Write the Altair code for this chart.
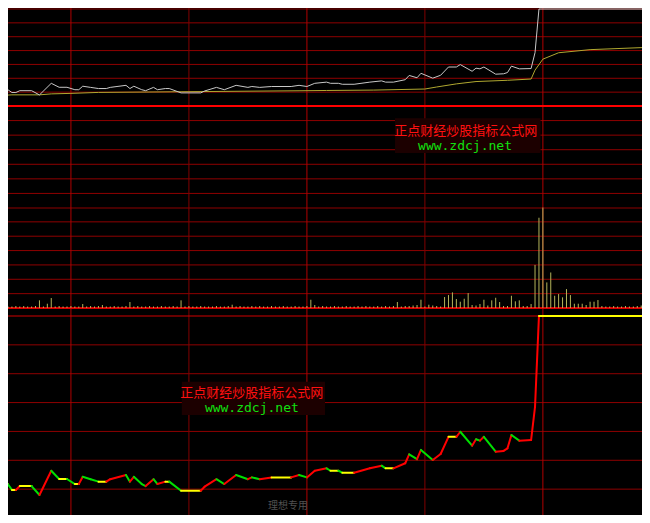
import altair as alt
import pandas as pd

W, H = 634, 507

# ---------------- data ----------------
# minute index = trading minutes since 9:30 (11:30 == 13:00 == 120)
line_min = [42, 44, 45, 46, 47, 50, 52, 55, 57, 59,
            61, 62, 63, 65, 67, 69, 70, 74, 75, 76,
            78, 79, 81, 82, 84, 85, 88, 93, 94, 97,
            99, 102, 105, 106, 108, 111, 116, 118, 120, 122,
            125, 126, 128, 129, 132, 136, 139, 140, 142, 145,
            146, 148, 149, 152, 154, 156, 158, 159, 162, 163,
            164, 165, 168, 170, 171, 172, 174, 177, 178, 179,
            207]
# price change vs previous close, %
line_pct = [1.67, 1.67, 1.39, 1.39, 1.58, 1.58, 1.14, 2.34, 1.93, 1.93,
            1.68, 1.68, 2.04, 1.92, 1.80, 1.80, 1.92, 2.13, 1.80, 2.04,
            1.68, 1.58, 1.92, 1.68, 1.80, 1.80, 1.35, 1.35, 1.55, 1.92,
            1.68, 2.13, 1.92, 2.01, 1.92, 2.01, 2.01, 2.13, 2.01, 2.34,
            2.46, 2.34, 2.34, 2.24, 2.24, 2.46, 2.59, 2.46, 2.46, 2.71,
            3.15, 2.91, 3.37, 2.87, 3.17, 4.02, 4.02, 4.27, 3.58, 3.90,
            3.83, 4.02, 3.28, 3.32, 3.45, 4.11, 3.83, 3.86, 5.50, 10.0,
            10.0]

avg_min = [42, 45, 52, 55, 60, 67, 88, 118, 125, 137,
           150, 153, 158, 163, 171, 177, 178, 180, 184, 192, 207]
avg_pct = [1.08, 1.15, 1.15, 1.25, 1.30, 1.40, 1.47, 1.57, 1.60, 1.64,
           1.75, 1.96, 2.28, 2.52, 2.65, 2.78, 3.70, 4.83, 5.49, 5.81, 6.05]

vol_start = 42
vol = [150, 200, 150, 150, 200, 150, 200, 150, 150, 200,
       770, 150, 430, 1000, 150, 200, 150, 150, 200, 150,
       150, 400, 150, 200, 150, 200, 300, 150, 150, 200,
       150, 150, 200, 600, 150, 200, 150, 150, 200, 150,
       150, 200, 150, 150, 200, 150, 770, 150, 200, 150,
       150, 200, 150, 150, 150, 200, 150, 150, 200, 330,
       150, 200, 150, 150, 200, 150, 200, 150, 150, 200,
       150, 150, 200, 150, 150, 200, 150, 150, 200, 830,
       300, 150, 200, 150, 150, 200, 150, 150, 200, 150,
       150, 200, 150, 200, 150, 150, 200, 150, 200, 150,
       200, 600, 150, 200, 200, 250, 300, 830, 150, 330,
       250, 200, 150, 1100, 1300, 1570, 900, 630, 930, 1500,
       300, 250, 400, 830, 250, 770, 1030, 600, 200, 200,
       1230, 670, 770, 200, 200, 400, 4330, 9070, 10100, 2570,
       3570, 1230, 1400, 1070, 1900, 1300, 430, 430, 430, 300,
       630, 630, 800, 200, 150, 150, 200, 150, 150, 200,
       150, 150, 200, 250, 150, 200]
vol_max = 10100

vgrid_min = [60, 90, 120, 150, 180]
vgrid_kind = ["hour", "half", "hour", "half", "hour"]

price_grid = [k * 10 / 7 for k in range(-7, 8) if k != 0]
vol_grid = [vol_max * j / 7 for j in range(1, 7)]
ind_grid = [j * 10 / 7 for j in range(1, 8)]

wm_text = ["正点财经炒股指标公式网", "www.zdcj.net"]
sig_text = "理想专用"

# ---------------- tables ----------------
price_df = pd.DataFrame({"m": line_min, "pct": line_pct})
avg_df = pd.DataFrame({"m": avg_min, "pct": avg_pct})
vol_df = pd.DataFrame({"m": list(range(vol_start, vol_start + len(vol))), "v": vol})
vol_df["base"] = 0
seg_df = pd.DataFrame({"m": line_min[:-1], "m2": line_min[1:],
                       "pct": line_pct[:-1], "pct2": line_pct[1:]})
seg_df["dir"] = ["up" if b > a else ("down" if b < a else "flat")
                 for a, b in zip(line_pct[:-1], line_pct[1:])]
vg_df = pd.DataFrame({"m": vgrid_min, "kind": vgrid_kind})

# ---------------- scales ----------------
xs = alt.Scale(domain=[44.0, 205.2], nice=False, zero=False)
ps = alt.Scale(domain=[-10, 0, 10], range=[200, 98, 1], nice=False, zero=False)
vs = alt.Scale(domain=[0, vol_max], range=[300, 199.5], nice=False, zero=False)
iscale = alt.Scale(domain=[0, 10], range=[510, 308], nice=False, zero=False)

X = lambda f="m": alt.X(f"{f}:Q", scale=xs, axis=None)

GRID = "#8e0000"
BRIGHT = "#d00000"

def hlines(values, scale, color, width):
    return alt.Chart(pd.DataFrame({"y": values})).mark_rule(
        color=color, strokeWidth=width).encode(y=alt.Y("y:Q", scale=scale, axis=None))

layers = [
    hlines(price_grid, ps, GRID, 1),
    hlines(vol_grid, vs, GRID, 1),
    hlines(ind_grid[:-1], iscale, GRID, 1),
    alt.Chart(vg_df[vg_df.kind == "half"]).mark_rule(color="#800000", strokeWidth=1).encode(x=X()),
    alt.Chart(vg_df[vg_df.kind == "hour"]).mark_rule(color="#b00000", strokeWidth=1).encode(x=X()),
    hlines([0], ps, "#ff0000", 2),
    hlines([0], vs, "#d80000", 2),
    hlines([0], iscale, BRIGHT, 1),
    hlines([10], iscale, BRIGHT, 1),
]

# watermark boxes + text (positioned in data coordinates)
box1 = pd.DataFrame({"m": [142.4], "m2": [179.4], "y": [-1.2], "y2": [-4.6]})
box2 = pd.DataFrame({"m": [88.2], "m2": [124.6], "y": [6.75], "y2": [5.1]})
layers += [
    alt.Chart(box1).mark_rect(color="#1c0000").encode(x=X(), x2="m2:Q",
        y=alt.Y("y:Q", scale=ps, axis=None), y2="y2:Q"),
    alt.Chart(box2).mark_rect(color="#1c0000").encode(x=X(), x2="m2:Q",
        y=alt.Y("y:Q", scale=iscale, axis=None), y2="y2:Q"),
]
t1 = pd.DataFrame({"m": [160.4], "y": [-2.45], "t": [wm_text[0]]})
g1 = pd.DataFrame({"m": [160.2], "y": [-3.9], "t": [wm_text[1]]})
t2 = pd.DataFrame({"m": [106.0], "y": [6.19], "t": [wm_text[0]]})
g2 = pd.DataFrame({"m": [106.0], "y": [5.45], "t": [wm_text[1]]})
sg = pd.DataFrame({"m": [115.2], "y": [0.6], "t": [sig_text]})

def txt(df, scale, color, size, font, weight="normal"):
    return alt.Chart(df).mark_text(color=color, fontSize=size, font=font, fontWeight=weight,
                                   align="center", baseline="middle").encode(
        x=X(), y=alt.Y("y:Q", scale=scale, axis=None), text="t:N")

layers += [
    txt(t1, ps, "#ff1010", 13, "Noto Sans CJK SC"),
    txt(g1, ps, "#10e010", 13, "DejaVu Sans Mono"),
    txt(t2, iscale, "#ff1010", 13, "Noto Sans CJK SC"),
    txt(g2, iscale, "#10e010", 13, "DejaVu Sans Mono"),
    txt(sg, iscale, "#505050", 10, "Noto Sans CJK SC"),
]

# data marks
layers += [
    alt.Chart(vol_df).mark_rule(color="#b4b45a", strokeWidth=1, clip=True).encode(
        x=X(), y=alt.Y("v:Q", scale=vs, axis=None), y2="base:Q"),
    alt.Chart(avg_df).mark_line(color="#b0a830", strokeWidth=1, clip=True).encode(
        x=X(), y=alt.Y("pct:Q", scale=ps, axis=None)),
    alt.Chart(price_df).mark_line(color="#c8c8c8", strokeWidth=1, clip=True).encode(
        x=X(), y=alt.Y("pct:Q", scale=ps, axis=None)),
    alt.Chart(seg_df).mark_rule(strokeWidth=2, clip=True, strokeCap="round").encode(
        x=X(), x2="m2:Q", y=alt.Y("pct:Q", scale=iscale, axis=None), y2="pct2:Q",
        color=alt.Color("dir:N", scale=alt.Scale(domain=["up", "down", "flat"],
                        range=["#ff0000", "#00e000", "#ffff00"]), legend=None)),
]

chart = alt.layer(*layers).resolve_scale(y="independent").properties(
    width=W, height=H, background="#000000", padding=0,
    autosize=alt.AutoSizeParams(type="none"),
).configure_view(stroke=None)

chart.save("out.html", embed_options={"renderer": "svg", "actions": False})
